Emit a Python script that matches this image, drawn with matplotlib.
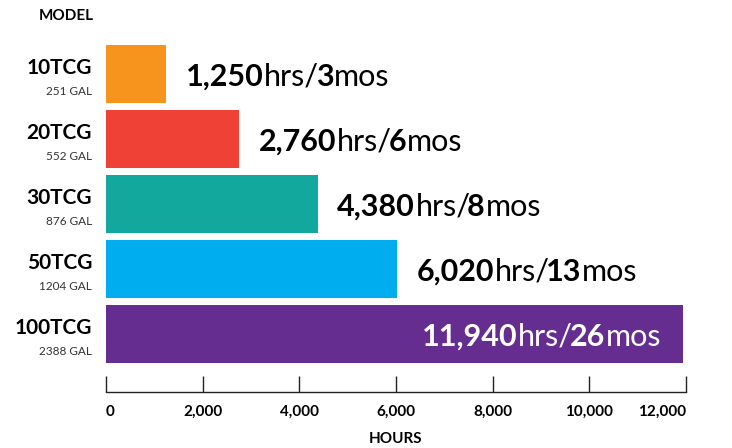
import matplotlib
matplotlib.use("Agg")
import matplotlib.pyplot as plt

plt.rcParams["font.family"] = ["Lato", "DejaVu Sans"]

models = ["10TCG", "20TCG", "30TCG", "50TCG", "100TCG"]
gallons = ["251 GAL", "552 GAL", "876 GAL", "1204 GAL", "2388 GAL"]
hours = [1250, 2760, 4380, 6020, 11940]
months = [3, 6, 8, 13, 26]
colors = ["#F7941D", "#EF4136", "#13A89E", "#00AEEF", "#662D91"]
ticks = [0, 2000, 4000, 6000, 8000, 10000, 12000]

W, H = 732, 448
fig = plt.figure(figsize=(W / 100, H / 100), dpi=100)
ax = fig.add_axes([106 / W, 56 / H, 580 / W, 357 / H])

ypos = list(range(len(models)))
ax.barh(ypos, hours, height=0.89, color=colors)
ax.set_xlim(0, 12000)
ax.set_ylim(4.892, -0.6)

for s in ["top", "right", "left"]:
    ax.spines[s].set_visible(False)
ax.spines["bottom"].set_color("#222222")
ax.spines["bottom"].set_linewidth(1.0)
ax.set_yticks([])
ax.set_xticks(ticks)
ax.set_xticklabels([f"{t:,}" for t in ticks], fontsize=11, fontweight="bold")
ax.tick_params(axis="x", direction="in", length=11.5, width=1.0,
               color="#222222", pad=9)
tl = ax.get_xticklabels()
tl[0].set_ha("left")
tl[-1].set_ha("right")
ax.set_xlabel("HOURS", fontsize=11, fontweight="bold", labelpad=10)

# model names and tank sizes to the left of each bar
for i, (m, g) in enumerate(zip(models, gallons)):
    ax.annotate(m, xy=(0, i), xytext=(-10, 4), textcoords="offset points",
                ha="right", va="center", fontsize=15, fontweight="bold")
    ax.annotate(g, xy=(0, i), xytext=(-10, -12.5), textcoords="offset points",
                ha="right", va="center", fontsize=8.5, color="#333333")
fig.text(94 / W, 1 - 16 / H, "MODEL", ha="right", va="center",
         fontsize=11, fontweight="bold")

# value labels: bold number, plain unit
labels = []
for i, (h, mo) in enumerate(zip(hours, months)):
    c = "white" if h > 10000 else "black"
    parts = [(f"{h:,}", "bold", 0), ("hrs/", "normal", 0.5),
             (str(mo), "bold", -2.5), ("mos", "normal", 0.5)]
    first = ax.annotate(parts[0][0], xy=(h, i), xytext=(14, -2),
                        textcoords="offset points", ha="left", va="center",
                        fontsize=22, fontweight=parts[0][1], color=c)
    prev = first
    chain = [first]
    for txt, wt, dx in parts[1:]:
        prev = ax.annotate(txt, xy=(1, 0), xycoords=prev, xytext=(dx, 0),
                           textcoords="offset points", ha="left", va="bottom",
                           fontsize=22, fontweight=wt, color=c)
        chain.append(prev)
    labels.append((h, chain))

fig.canvas.draw()
r = fig.canvas.get_renderer()
for h, chain in labels:
    if h > 10000:
        x0 = chain[0].get_window_extent(r).x0
        x1 = chain[-1].get_window_extent(r).x1
        width_pt = (x1 - x0) * 72 / fig.dpi
        chain[0].xyann = (-width_pt - 16, -2)

fig.savefig("out.png", dpi=100)
